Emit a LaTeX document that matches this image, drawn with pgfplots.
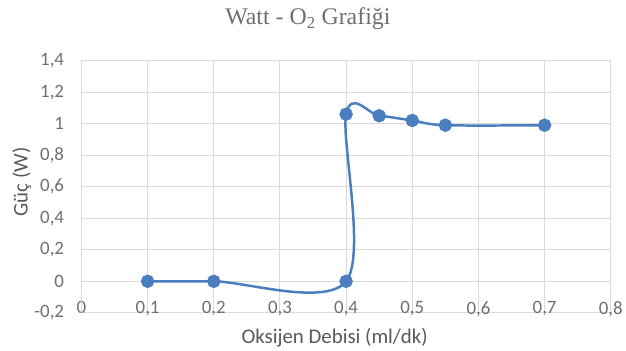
\documentclass[border=0pt]{standalone}
\usepackage{pgfplots}
\pgfplotsset{compat=1.18}
\usepackage{fontspec}
\setmainfont{Carlito}
\newfontfamily\titlefont{Liberation Serif}
\definecolor{seriesblue}{HTML}{4A7EBF}
\definecolor{gridgray}{HTML}{DADADA}
\definecolor{labelgray}{HTML}{595959}
\definecolor{tickgray}{HTML}{6F6F6F}

\pgfplotstableread{
x    y
0.10 0
0.20 0
0.40 0
0.40 1.06
0.45 1.05
0.50 1.02
0.55 0.99
0.70 0.99
}\wattdata

\begin{document}
\begin{tikzpicture}
\begin{axis}[
  at={(0pt,0pt)}, anchor=south west,
  scale only axis,
  width=533pt, height=254pt,
  xmin=0, xmax=0.8, ymin=-0.2, ymax=1.4,
  xtick={0,0.1,...,0.8}, ytick={-0.2,0,...,1.4},
  xticklabels={0,{0,1},{0,2},{0,3},{0,4},{0,5},{0,6},{0,7},{0,8}},
  yticklabels={{-0,2},0,{0,2},{0,4},{0,6},{0,8},1,{1,2},{1,4}},
  tick style={draw=none},
  axis line style={draw=none},
  grid=major,
  major grid style={gridgray, line width=1pt},
  ticklabel style={font=\fontsize{19}{20}\selectfont, text=tickgray},
  xticklabel style={yshift=15pt},
  yticklabel style={xshift=-14pt},
  clip=false,
]
\draw[gridgray, line width=1.2pt] (rel axis cs:0,0) -- (rel axis cs:0,1);
\addplot[seriesblue, line width=2.5pt, smooth, tension=0.55,
  mark=*, mark size=5.5pt, mark options={fill=seriesblue, draw=seriesblue}]
  table[x=x, y=y] {\wattdata};
\end{axis}
% labels around the plot area
\node[font=\titlefont\fontsize{24}{26}\selectfont, text=tickgray]
  at (228pt,296pt) {Watt - O\textsubscript{2} Grafiği};
\node[font=\fontsize{21}{23}\selectfont, text=labelgray, rotate=90]
  at (-60pt,132pt) {Güç (W)};
\node[font=\fontsize{21}{23}\selectfont, text=labelgray]
  at (255pt,-25pt) {Oksijen Debisi (ml/dk)};
\path[use as bounding box] (-82pt,-37pt) rectangle (544pt,315pt);
\end{tikzpicture}
\end{document}
